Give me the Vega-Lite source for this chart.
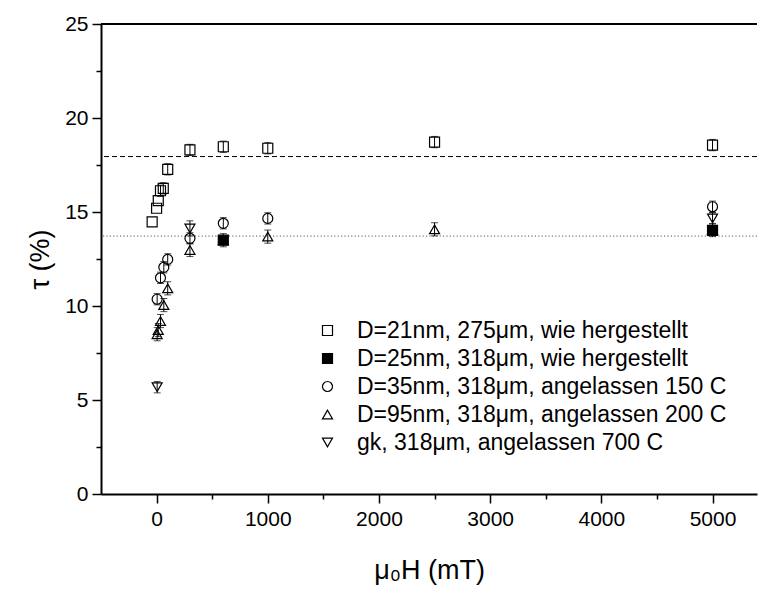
{
  "$schema": "https://vega.github.io/schema/vega-lite/v6.json",
  "width": 656,
  "height": 470,
  "autosize": {"type": "none"},
  "padding": {"left": 101, "top": 24, "right": 4, "bottom": 98},
  "background": "white",
  "config": {
    "font": "Liberation Sans",
    "view": {"stroke": null},
    "axis": {
      "grid": false,
      "labelFontSize": 21,
      "titleFontSize": 27,
      "titleFontWeight": "normal",
      "labelColor": "black",
      "titleColor": "black",
      "domainColor": "black",
      "tickColor": "black",
      "domainWidth": 2,
      "tickWidth": 1.5
    },
    "legend": {
      "orient": "none",
      "legendX": 215,
      "legendY": 295,
      "labelFontSize": 23,
      "labelColor": "black",
      "symbolSize": 100,
      "symbolStrokeWidth": 1.2,
      "symbolStrokeColor": "black",
      "labelOffset": 18,
      "rowPadding": 4,
      "labelLimit": 600
    }
  },
  "datasets": {
    "points": [
      {"H": -40, "tau": 14.48, "series": "D=21nm, 275μm, wie hergestellt"},
      {"H": 0, "tau": 15.2, "series": "D=21nm, 275μm, wie hergestellt"},
      {"H": 15, "tau": 15.6, "series": "D=21nm, 275μm, wie hergestellt"},
      {"H": 35, "tau": 16.13, "series": "D=21nm, 275μm, wie hergestellt"},
      {"H": 60, "tau": 16.26, "series": "D=21nm, 275μm, wie hergestellt"},
      {"H": 100, "tau": 17.27, "series": "D=21nm, 275μm, wie hergestellt"},
      {"H": 300, "tau": 18.3, "series": "D=21nm, 275μm, wie hergestellt"},
      {"H": 600, "tau": 18.47, "series": "D=21nm, 275μm, wie hergestellt"},
      {"H": 1000, "tau": 18.39, "series": "D=21nm, 275μm, wie hergestellt"},
      {"H": 2500, "tau": 18.72, "series": "D=21nm, 275μm, wie hergestellt"},
      {"H": 5000, "tau": 18.56, "series": "D=21nm, 275μm, wie hergestellt"},
      {"H": 600, "tau": 13.5, "series": "D=25nm, 318μm, wie hergestellt"},
      {"H": 5000, "tau": 14.02, "series": "D=25nm, 318μm, wie hergestellt"},
      {"H": 5, "tau": 10.36, "series": "D=35nm, 318μm, angelassen 150 C"},
      {"H": 35, "tau": 11.5, "series": "D=35nm, 318μm, angelassen 150 C"},
      {"H": 65, "tau": 12.06, "series": "D=35nm, 318μm, angelassen 150 C"},
      {"H": 100, "tau": 12.48, "series": "D=35nm, 318μm, angelassen 150 C"},
      {"H": 300, "tau": 13.6, "series": "D=35nm, 318μm, angelassen 150 C"},
      {"H": 600, "tau": 14.4, "series": "D=35nm, 318μm, angelassen 150 C"},
      {"H": 1000, "tau": 14.66, "series": "D=35nm, 318μm, angelassen 150 C"},
      {"H": 5000, "tau": 15.28, "series": "D=35nm, 318μm, angelassen 150 C"},
      {"H": 5, "tau": 8.5, "series": "D=95nm, 318μm, angelassen 200 C"},
      {"H": 15, "tau": 8.72, "series": "D=95nm, 318μm, angelassen 200 C"},
      {"H": 35, "tau": 9.2, "series": "D=95nm, 318μm, angelassen 200 C"},
      {"H": 65, "tau": 10.05, "series": "D=95nm, 318μm, angelassen 200 C"},
      {"H": 100, "tau": 10.94, "series": "D=95nm, 318μm, angelassen 200 C"},
      {"H": 300, "tau": 12.98, "series": "D=95nm, 318μm, angelassen 200 C"},
      {"H": 600, "tau": 13.5, "series": "D=95nm, 318μm, angelassen 200 C"},
      {"H": 1000, "tau": 13.69, "series": "D=95nm, 318μm, angelassen 200 C"},
      {"H": 2500, "tau": 14.08, "series": "D=95nm, 318μm, angelassen 200 C"},
      {"H": 5000, "tau": 14.04, "series": "D=95nm, 318μm, angelassen 200 C"},
      {"H": 5, "tau": 5.68, "series": "gk, 318μm, angelassen 700 C"},
      {"H": 300, "tau": 14.13, "series": "gk, 318μm, angelassen 700 C"},
      {"H": 5000, "tau": 14.66, "series": "gk, 318μm, angelassen 700 C"}
    ],
    "errs": [
      {"H": 300, "tau": 18.3, "err": 0.3},
      {"H": 600, "tau": 18.47, "err": 0.3},
      {"H": 1000, "tau": 18.39, "err": 0.3},
      {"H": 2500, "tau": 18.72, "err": 0.3},
      {"H": 5000, "tau": 18.56, "err": 0.3},
      {"H": 100, "tau": 17.27, "err": 0.3},
      {"H": 60, "tau": 16.26, "err": 0.3},
      {"H": 35, "tau": 16.13, "err": 0.3},
      {"H": 100, "tau": 12.48, "err": 0.3},
      {"H": 65, "tau": 12.06, "err": 0.3},
      {"H": 35, "tau": 11.5, "err": 0.3},
      {"H": 5, "tau": 10.36, "err": 0.3},
      {"H": 300, "tau": 13.6, "err": 0.3},
      {"H": 600, "tau": 14.4, "err": 0.3},
      {"H": 1000, "tau": 14.66, "err": 0.3},
      {"H": 5000, "tau": 15.28, "err": 0.3},
      {"H": 5, "tau": 8.5, "err": 0.35},
      {"H": 15, "tau": 8.72, "err": 0.35},
      {"H": 35, "tau": 9.2, "err": 0.35},
      {"H": 65, "tau": 10.05, "err": 0.35},
      {"H": 100, "tau": 10.94, "err": 0.35},
      {"H": 300, "tau": 12.98, "err": 0.35},
      {"H": 600, "tau": 13.5, "err": 0.35},
      {"H": 1000, "tau": 13.69, "err": 0.35},
      {"H": 2500, "tau": 14.08, "err": 0.35},
      {"H": 5000, "tau": 14.04, "err": 0.35},
      {"H": 5, "tau": 5.68, "err": 0.3},
      {"H": 300, "tau": 14.13, "err": 0.4},
      {"H": 5000, "tau": 14.66, "err": 0.3}
    ],
    "dashed": [{"level": 17.95}],
    "dotted": [{"level": 13.72}],
    "frame": [{"level": 25}]
  },
  "layer": [
    {
      "data": {"name": "dashed"},
      "mark": {"type": "rule", "strokeDash": [5, 3], "strokeWidth": 1, "color": "black"},
      "encoding": {
        "y": {
          "field": "level", "type": "quantitative",
          "scale": {"domain": [0, 25], "nice": false, "zero": false},
          "axis": {
            "values": [0, 2.5, 5, 7.5, 10, 12.5, 15, 17.5, 20, 22.5, 25],
            "labelExpr": "datum.value % 5 === 0 ? datum.label : ''",
            "tickSize": {"condition": {"test": "datum.value % 5 === 0", "value": 9}, "value": 5},
            "labelPadding": 4,
            "title": "τ (%)",
            "titlePadding": 10
          }
        }
      }
    },
    {
      "data": {"name": "dotted"},
      "mark": {"type": "rule", "strokeDash": [1.2, 2.2], "strokeWidth": 1, "color": "#555555"},
      "encoding": {
        "y": {"field": "level", "type": "quantitative", "title": "τ (%)"}
      }
    },
    {
      "data": {"name": "frame"},
      "mark": {"type": "rule", "strokeWidth": 2, "color": "black"},
      "encoding": {
        "y": {"field": "level", "type": "quantitative", "title": "τ (%)"}
      }
    },
    {
      "data": {"name": "errs"},
      "mark": {"type": "errorbar", "ticks": {"size": 7, "color": "black"}, "rule": {"color": "black", "strokeWidth": 1}},
      "encoding": {
        "x": {
          "field": "H", "type": "quantitative",
          "scale": {"domain": [-500, 5400], "nice": false, "zero": false},
          "axis": {
            "values": [0, 500, 1000, 1500, 2000, 2500, 3000, 3500, 4000, 4500, 5000],
            "format": "d",
            "labelExpr": "datum.value % 1000 === 0 ? datum.label : ''",
            "tickSize": {"condition": {"test": "datum.value % 1000 === 0", "value": 9}, "value": 5},
            "labelPadding": 5,
            "title": "μ₀H (mT)",
            "titlePadding": 28
          }
        },
        "y": {"field": "tau", "type": "quantitative", "title": "τ (%)"},
        "yError": {"field": "err"}
      }
    },
    {
      "data": {"name": "points"},
      "mark": {"type": "point", "size": 100, "strokeWidth": 1.2, "opacity": 1},
      "encoding": {
        "x": {"field": "H", "type": "quantitative", "title": "μ₀H (mT)"},
        "y": {"field": "tau", "type": "quantitative", "title": "τ (%)"},
        "shape": {
          "field": "series", "type": "nominal",
          "scale": {
            "domain": ["D=21nm, 275μm, wie hergestellt", "D=25nm, 318μm, wie hergestellt", "D=35nm, 318μm, angelassen 150 C", "D=95nm, 318μm, angelassen 200 C", "gk, 318μm, angelassen 700 C"],
            "range": ["square", "square", "circle", "triangle-up", "triangle-down"]
          },
          "legend": {"title": null}
        },
        "fill": {
          "field": "series", "type": "nominal",
          "scale": {
            "domain": ["D=21nm, 275μm, wie hergestellt", "D=25nm, 318μm, wie hergestellt", "D=35nm, 318μm, angelassen 150 C", "D=95nm, 318μm, angelassen 200 C", "gk, 318μm, angelassen 700 C"],
            "range": ["transparent", "black", "transparent", "transparent", "transparent"]
          },
          "legend": {"title": null}
        },
        "stroke": {
          "field": "series", "type": "nominal",
          "scale": {
            "domain": ["D=21nm, 275μm, wie hergestellt", "D=25nm, 318μm, wie hergestellt", "D=35nm, 318μm, angelassen 150 C", "D=95nm, 318μm, angelassen 200 C", "gk, 318μm, angelassen 700 C"],
            "range": ["black", "black", "black", "black", "black"]
          },
          "legend": {"title": null}
        }
      }
    }
  ]
}
